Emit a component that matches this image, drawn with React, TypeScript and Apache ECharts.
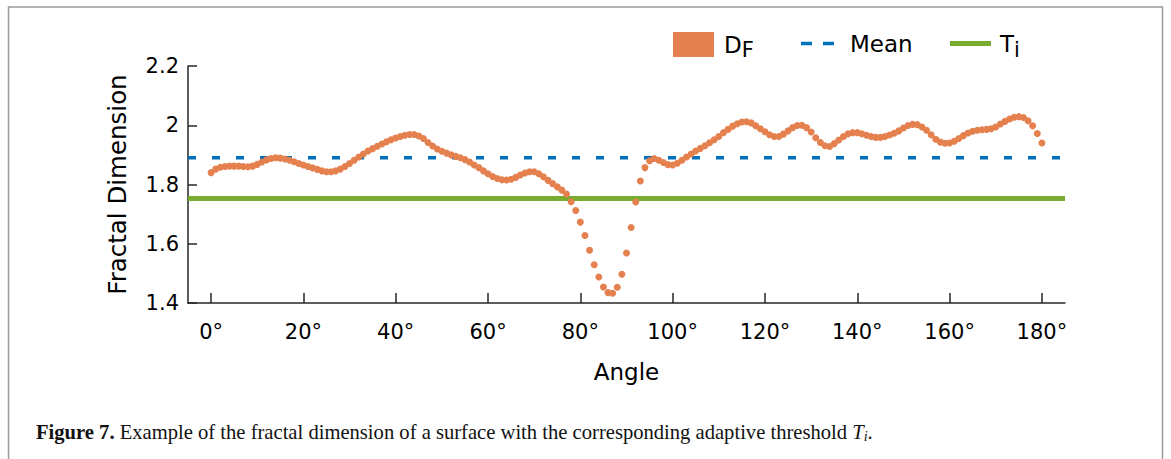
import React, { useEffect, useRef } from "react";
import * as echarts from "echarts";

// Fractal dimension D_F sampled once per degree, 0° … 180°
const dfValues: number[] = [
  1.840, 1.852, 1.858, 1.861, 1.862, 1.862, 1.862, 1.861, 1.860, 1.862,
  1.868, 1.876, 1.883, 1.888, 1.890, 1.889, 1.886, 1.882, 1.877, 1.871,
  1.866, 1.861, 1.856, 1.851, 1.846, 1.843, 1.843, 1.846, 1.852, 1.861,
  1.871, 1.882, 1.893, 1.903, 1.913, 1.921, 1.929, 1.937, 1.944, 1.951,
  1.957, 1.962, 1.966, 1.969, 1.969, 1.964, 1.955, 1.942, 1.930, 1.920,
  1.912, 1.906, 1.900, 1.895, 1.890, 1.884, 1.876, 1.866, 1.857, 1.846,
  1.836, 1.827, 1.820, 1.816, 1.815, 1.818, 1.824, 1.832, 1.839, 1.843,
  1.843, 1.836, 1.826, 1.814, 1.803, 1.792, 1.781, 1.768, 1.742, 1.712,
  1.673, 1.628, 1.578, 1.529, 1.488, 1.454, 1.435, 1.433, 1.453, 1.497,
  1.569, 1.655, 1.741, 1.812, 1.857, 1.880, 1.888, 1.882, 1.874, 1.867,
  1.866, 1.872, 1.882, 1.893, 1.903, 1.913, 1.922, 1.931, 1.941, 1.951,
  1.962, 1.975, 1.986, 1.997, 2.005, 2.011, 2.012, 2.008, 1.998, 1.988,
  1.978, 1.968, 1.962, 1.962, 1.970, 1.981, 1.992, 1.999, 2.000, 1.992,
  1.977, 1.958, 1.942, 1.931, 1.928, 1.938, 1.950, 1.962, 1.971, 1.975,
  1.975, 1.971, 1.966, 1.962, 1.959, 1.959, 1.962, 1.967, 1.973, 1.981,
  1.991, 1.999, 2.003, 2.002, 1.994, 1.983, 1.968, 1.953, 1.943, 1.939,
  1.940, 1.946, 1.955, 1.965, 1.974, 1.980, 1.983, 1.985, 1.986, 1.988,
  1.994, 2.004, 2.013, 2.021, 2.027, 2.029, 2.026, 2.015, 1.998, 1.972,
  1.940,
];

const meanValue = 1.89;
const thresholdValue = 1.753;

const angleRange: [number, number] = [-5, 185];
const angleTicks: number[] = [0, 20, 40, 60, 80, 100, 120, 140, 160, 180];
const yRange: [number, number] = [1.4, 2.2];
const yInterval = 0.2;

const ORANGE = "#E5804F";
const BLUE = "#0072BD";
const GREEN = "#77AC30";
const TEXT = "#000000";
const AXIS = "#262626";
const FONT = "DejaVu Sans";

export default function App() {
  const ref = useRef<HTMLDivElement>(null);

  useEffect(() => {
    if (!ref.current) return;
    const chart = echarts.init(ref.current, undefined, { renderer: "svg" });

    const legendRich = {
      b: { fontSize: 23, fontFamily: FONT, color: TEXT, padding: [0, 0, 0, 5] },
      bm: { fontSize: 23, fontFamily: FONT, color: TEXT, padding: [0, 0, 0, 11] },
      bt: { fontSize: 23, fontFamily: FONT, color: TEXT, padding: [0, 0, 0, 4] },
      s: { fontSize: 21, fontFamily: FONT, color: TEXT, padding: [10, 0, 0, 0] },
      si: { fontSize: 21, fontFamily: FONT, color: TEXT, padding: [12, 0, 0, 0] },
    };
    const legendFormatter = (name: string) => {
      if (name === "DF") return "{b|D}{s|F}";
      if (name === "Ti") return "{bt|T}{si|i}";
      return "{bm|" + name + "}";
    };
    const legendBase = {
      orient: "horizontal",
      selectedMode: false,
      formatter: legendFormatter,
      textStyle: { rich: legendRich },
      padding: 0,
    };

    chart.setOption({
      animation: false,
      backgroundColor: "#ffffff",
      grid: { left: 188, top: 66, right: 106, bottom: 156, containLabel: false },
      legend: [
        {
          ...legendBase,
          left: 673,
          top: 32,
          itemWidth: 41,
          itemHeight: 25,
          data: [{ name: "DF", icon: "rect" }],
        },
        {
          ...legendBase,
          left: 801,
          top: 32,
          itemWidth: 33,
          itemHeight: 3.5,
          data: [{ name: "Mean", icon: "path://M0,0h11v3.5h-11zM22,0h11v3.5h-11z" }],
        },
        {
          ...legendBase,
          left: 950,
          top: 32,
          itemWidth: 41,
          itemHeight: 5,
          data: [{ name: "Ti", icon: "path://M0,0h41v5h-41z" }],
        },
      ],
      xAxis: {
        type: "value",
        min: angleRange[0],
        max: angleRange[1],
        name: "Angle",
        nameLocation: "middle",
        nameGap: 57,
        nameTextStyle: { fontSize: 23, fontFamily: FONT, color: TEXT },
        splitLine: { show: false },
        axisLine: { show: true, onZero: false, lineStyle: { color: AXIS, width: 1.5 } },
        axisTick: {
          show: true,
          inside: true,
          length: 10,
          customValues: angleTicks,
          lineStyle: { color: AXIS, width: 1.5 },
        },
        axisLabel: {
          customValues: angleTicks,
          formatter: "{value}°",
          fontSize: 21,
          fontFamily: FONT,
          color: TEXT,
          margin: 18,
        },
      },
      yAxis: {
        type: "value",
        min: yRange[0],
        max: yRange[1],
        interval: yInterval,
        name: "Fractal Dimension",
        nameLocation: "middle",
        nameGap: 58,
        nameTextStyle: { fontSize: 24.5, fontFamily: FONT, color: TEXT },
        splitLine: { show: false },
        axisLine: { show: true, onZero: false, lineStyle: { color: AXIS, width: 1.5 } },
        axisTick: { show: true, inside: true, length: 9, lineStyle: { color: AXIS, width: 1.5 } },
        axisLabel: {
          fontSize: 21,
          fontFamily: FONT,
          color: TEXT,
          margin: 9,
          formatter: (v: number) => String(parseFloat(v.toFixed(1))),
        },
      },
      series: [
        {
          name: "DF",
          type: "scatter",
          symbol: "circle",
          symbolSize: 7,
          itemStyle: { color: ORANGE, opacity: 1 },
          data: dfValues.map((v, angle) => [angle, v]),
          z: 3,
        },
        {
          name: "Mean",
          type: "line",
          symbol: "none",
          lineStyle: { color: BLUE, width: 3.5, type: [8, 16] },
          itemStyle: { color: BLUE },
          data: [
            [angleRange[0], meanValue],
            [angleRange[1], meanValue],
          ],
          z: 2,
        },
        {
          name: "Ti",
          type: "line",
          symbol: "none",
          lineStyle: { color: GREEN, width: 5 },
          itemStyle: { color: GREEN },
          data: [
            [angleRange[0], thresholdValue],
            [angleRange[1], thresholdValue],
          ],
          z: 2,
        },
      ],
      graphic: [
        {
          type: "rect",
          shape: { x: 8.5, y: 7, width: 1154, height: 480 },
          style: { fill: "none", stroke: "#9a9a9a", lineWidth: 1.5 },
          z: -1,
          silent: true,
        },
        {
          type: "text",
          left: 36,
          top: 421,
          style: {
            text:
              "{b|Figure 7.} Example of the fractal dimension of a surface with the corresponding adaptive threshold {it|T}{sub|i}.",
            fontFamily: "Liberation Serif",
            fontSize: 20.6,
            fill: "#111",
            rich: {
              b: { fontFamily: "Liberation Serif", fontSize: 20.6, fontWeight: "bold", fill: "#111" },
              it: { fontFamily: "Liberation Serif", fontSize: 20.6, fontStyle: "italic", fill: "#111" },
              sub: {
                fontFamily: "Liberation Serif",
                fontSize: 14,
                fontStyle: "italic",
                fill: "#111",
                padding: [9, 0, 0, 0],
              },
            },
          },
        },
      ],
    });

    return () => chart.dispose();
  }, []);

  return (
    <div
      ref={ref}
      style={{ position: "fixed", left: 0, top: 0, width: 1171, height: 459 }}
    />
  );
}
